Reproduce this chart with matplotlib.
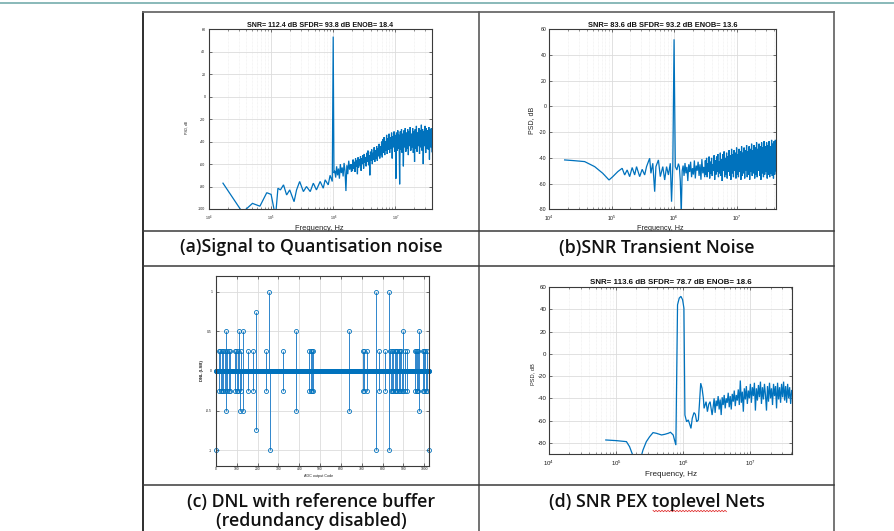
import numpy as np
import matplotlib
matplotlib.use("Agg")
import matplotlib.pyplot as plt
from matplotlib.ticker import FixedLocator, LogLocator, NullFormatter
from matplotlib.patches import Rectangle

# ------------------------------------------------------------------ data
# (a) Signal to quantisation noise : log10(f / Hz) and PSD in dB
a_low_logf = [4.225, 4.515, 4.58, 4.70, 4.82, 4.93, 5.00, 5.05, 5.08, 5.11,
              5.15, 5.20, 5.25, 5.30, 5.37, 5.41, 5.46, 5.52, 5.57, 5.63,
              5.68, 5.73, 5.79, 5.84, 5.87, 5.92, 5.95, 5.985, 6.0, 6.012]
a_low_db = [-77, -101, -101, -95, -97.5, -85.5, -87, -101, -101, -81.5,
            -83, -78.5, -87.5, -83, -93.5, -83, -75.5, -84.5, -80, -84.5,
            -77, -83, -75.5, -81.5, -74, -78.5, -70, -75.5, 53.5, -68]
a_mid_logf = [6.025, 6.04, 6.055, 6.07, 6.085, 6.10, 6.115, 6.13, 6.145, 6.16,
              6.175, 6.19, 6.205, 6.22, 6.235, 6.25, 6.265, 6.28, 6.295]
a_mid_db = [-66, -72, -62, -70, -64, -73, -60, -68, -63, -71,
            -59, -66, -84, -61, -69, -57, -65, -60, -67]
a_r2_logf = [6.30, 6.31, 6.32, 6.33, 6.34, 6.35, 6.36, 6.37, 6.38, 6.39,
             6.40, 6.41, 6.42, 6.43, 6.44, 6.45, 6.46, 6.47, 6.48, 6.49,
             6.50, 6.51, 6.52, 6.53, 6.54, 6.55, 6.56, 6.57, 6.58, 6.59,
             6.60, 6.61, 6.62, 6.63, 6.64, 6.65, 6.66, 6.67, 6.68, 6.69,
             6.70, 6.71, 6.72, 6.73, 6.74, 6.75, 6.76, 6.77, 6.78, 6.79]
a_r2_db = [-60, -66, -56, -64, -58, -67, -55, -62, -57, -69,
           -54, -63, -56, -61, -53, -66, -55, -60, -52, -64,
           -51, -59, -54, -62, -50, -58, -48, -61, -52, -70,
           -49, -57, -47, -60, -50, -56, -45, -58, -48, -55,
           -44, -57, -46, -53, -42, -55, -44, -52, -40, -54]
a_r3_logf = [6.80, 6.81, 6.82, 6.83, 6.84, 6.85, 6.86, 6.87, 6.88, 6.89,
             6.90, 6.91, 6.92, 6.93, 6.94, 6.95, 6.96, 6.97, 6.98, 6.99,
             7.00, 7.01, 7.02, 7.03, 7.04, 7.05, 7.06, 7.07, 7.08, 7.09,
             7.10, 7.11, 7.12, 7.13, 7.14, 7.15, 7.16, 7.17, 7.18, 7.19,
             7.20, 7.21, 7.22, 7.23, 7.24, 7.25, 7.26, 7.27, 7.28, 7.29,
             7.30, 7.31, 7.32, 7.33, 7.34, 7.35, 7.36, 7.37, 7.38, 7.39,
             7.40, 7.41, 7.42, 7.43, 7.44, 7.45, 7.46, 7.47, 7.48, 7.49,
             7.50, 7.51, 7.52, 7.53, 7.54, 7.55, 7.56, 7.57, 7.58, 7.59]
a_r3_db = [-38, -50, -36, -52, -40, -48, -34, -51, -37, -47,
           -33, -50, -36, -46, -32, -55, -35, -45, -31, -49,
           -34, -73, -32, -48, -30, -46, -34, -78, -31, -47,
           -29, -50, -33, -62, -30, -45, -28, -49, -32, -46,
           -29, -52, -31, -44, -27, -48, -33, -45, -28, -50,
           -31, -58, -29, -46, -26, -49, -32, -44, -28, -51,
           -30, -45, -25, -48, -29, -60, -31, -44, -26, -50,
           -28, -46, -30, -47, -27, -56, -29, -45, -28, -49]

# (b) SNR transient noise
b_low_logf = [4.25, 4.41, 4.57, 4.73, 4.86, 4.96, 5.02, 5.10, 5.17, 5.21,
              5.25, 5.29, 5.33, 5.37, 5.40, 5.45, 5.49, 5.53, 5.56, 5.61,
              5.63, 5.66, 5.69, 5.71, 5.75, 5.78, 5.82, 5.85, 5.88, 5.91,
              5.94, 5.96, 5.98, 6.0, 6.02, 6.045, 6.07, 6.085, 6.10, 6.115,
              6.13]
b_low_db = [-41.6, -42.2, -42.9, -46.8, -52, -57.2, -54.6, -50.7, -48.1, -53.3,
            -49.4, -54.6, -47.5, -53.3, -46.8, -54.6, -48.9, -53.3, -46.8, -40.3,
            -52, -44.2, -66.3, -46.8, -41.6, -54.6, -46.8, -57.2, -46.8, -53.3,
            -44.2, -74.1, -46.8, 52.2, -46.8, -49.4, -44.5, -47, -58, -84,
            -50]
b_mid_logf = [6.145, 6.16, 6.175, 6.19, 6.205, 6.22, 6.235, 6.25, 6.265, 6.28,
              6.295, 6.31, 6.325, 6.34, 6.355, 6.37, 6.385, 6.40, 6.415, 6.43,
              6.445, 6.46, 6.475, 6.49]
b_mid_db = [-46, -54, -44, -52, -47, -58, -45, -51, -43, -55,
            -48, -53, -42, -56, -46, -50, -43, -54, -45, -57,
            -41, -52, -47, -55]
b_hi_logf = [6.50, 6.51, 6.52, 6.53, 6.54, 6.55, 6.56, 6.57, 6.58, 6.59,
             6.60, 6.61, 6.62, 6.63, 6.64, 6.65, 6.66, 6.67, 6.68, 6.69,
             6.70, 6.71, 6.72, 6.73, 6.74, 6.75, 6.76, 6.77, 6.78, 6.79,
             6.80, 6.81, 6.82, 6.83, 6.84, 6.85, 6.86, 6.87, 6.88, 6.89,
             6.90, 6.91, 6.92, 6.93, 6.94, 6.95, 6.96, 6.97, 6.98, 6.99,
             7.00, 7.01, 7.02, 7.03, 7.04, 7.05, 7.06, 7.07, 7.08, 7.09,
             7.10, 7.11, 7.12, 7.13, 7.14, 7.15, 7.16, 7.17, 7.18, 7.19,
             7.20, 7.21, 7.22, 7.23, 7.24, 7.25, 7.26, 7.27, 7.28, 7.29,
             7.30, 7.31, 7.32, 7.33, 7.34, 7.35, 7.36, 7.37, 7.38, 7.39,
             7.40, 7.41, 7.42, 7.43, 7.44, 7.45, 7.46, 7.47, 7.48, 7.49,
             7.50, 7.51, 7.52, 7.53, 7.54, 7.55, 7.56, 7.57, 7.58, 7.59,
             7.60, 7.61, 7.62, 7.63]
b_hi_db = [-42, -53, -40, -55, -44, -51, -39, -56, -43, -52,
           -40, -54, -45, -50, -38, -57, -42, -53, -39, -51,
           -37, -55, -43, -52, -36, -54, -41, -58, -37, -50,
           -35, -55, -40, -53, -36, -56, -39, -51, -34, -54,
           -38, -57, -33, -52, -37, -55, -34, -50, -36, -56,
           -32, -53, -37, -55, -33, -51, -35, -57, -31, -54,
           -36, -52, -32, -56, -34, -50, -30, -55, -35, -53,
           -31, -57, -33, -51, -29, -54, -34, -52, -30, -56,
           -32, -53, -28, -55, -33, -50, -29, -54, -31, -57,
           -28, -52, -32, -55, -27, -53, -31, -51, -28, -56,
           -30, -53, -27, -55, -31, -52, -26, -54, -29, -56,
           -27, -53, -26, -50]

# (d) SNR PEX toplevel nets
d_low_logf = [4.846, 5.005, 5.154, 5.20, 5.26, 5.37, 5.40, 5.45, 5.50, 5.55,
              5.60, 5.677, 5.726, 5.776, 5.81, 5.85, 5.89, 5.915, 5.94, 5.965,
              5.99, 6.01, 6.025, 6.05, 6.075, 6.10, 6.115, 6.134, 6.16, 6.18,
              6.20, 6.225, 6.24, 6.26, 6.28, 6.30, 6.31, 6.34, 6.36, 6.38,
              6.40, 6.43]
d_low_db = [-77.4, -78, -78.9, -83.4, -93, -93, -86.4, -78.9, -74.4, -70.8,
            -71.4, -72.9, -72.3, -71.4, -70.5, -72.9, -82, 44, 50, 51.6,
            48.6, 41, -55, -61, -59.4, -64, -67, -58, -52.8, -54.3,
            -61, -59.4, -46, -26.4, -31, -40, -49, -43, -52, -45.3,
            -43, -55]
d_hi_logf = [6.445, 6.46, 6.475, 6.49, 6.505, 6.52, 6.535, 6.55, 6.565, 6.58,
             6.595, 6.61, 6.625, 6.64, 6.655, 6.67, 6.685, 6.70, 6.715, 6.73,
             6.745, 6.76, 6.775, 6.79, 6.805, 6.82, 6.835, 6.85, 6.865, 6.88,
             6.895, 6.91, 6.925, 6.94, 6.955, 6.97, 6.985, 7.00, 7.015, 7.03,
             7.045, 7.06, 7.075, 7.09, 7.105, 7.12, 7.135, 7.15, 7.165, 7.18,
             7.195, 7.21, 7.225, 7.24, 7.255, 7.27, 7.285, 7.30, 7.315, 7.33,
             7.345, 7.36, 7.375, 7.39, 7.405, 7.42, 7.435, 7.45, 7.465, 7.48,
             7.495, 7.51, 7.525, 7.54, 7.555, 7.57, 7.585, 7.60, 7.615]
d_hi_db = [-48, -40, -53, -42, -47, -38, -50, -41, -55, -39,
           -46, -37, -49, -40, -44, -35, -48, -38, -50, -36,
           -43, -33, -47, -37, -42, -32, -46, -24, -44, -34,
           -52, -31, -41, -29, -45, -33, -40, -27, -44, -30,
           -38, -26, -51, -31, -42, -28, -39, -25, -45, -30,
           -41, -27, -37, -51, -29, -43, -26, -40, -31, -46,
           -27, -38, -29, -49, -26, -41, -30, -44, -27, -39,
           -25, -42, -29, -44, -27, -40, -30, -45, -33]

# (c) DNL (LSB) per ADC output code; all codes not listed are 0
dnl_num_codes = 1024
dnl_codes = [0, 14, 15, 21, 22, 29, 30, 35, 36, 42, 43, 48, 49, 54, 55, 61, 62, 67, 68,
             91, 92, 98, 99, 104, 105, 112, 113, 118, 119, 128, 129, 152, 153,
             176, 177, 190, 191, 240, 241, 256, 257, 320, 321, 384, 385,
             448, 449, 454, 455, 461, 462, 467, 468, 640, 641,
             704, 705, 710, 711, 723, 724, 768, 769, 784, 785, 811, 812,
             832, 833, 838, 839, 845, 846, 851, 852, 858, 859, 864, 865,
             870, 871, 877, 878, 883, 884, 890, 891, 896, 897, 907, 908,
             915, 916, 955, 956, 962, 963, 966, 967, 971, 972, 976, 977,
             995, 996, 1000, 1001, 1006, 1007, 1014, 1015, 1023]
dnl_vals = [-1, 0.25, -0.25, 0.25, -0.25, 0.25, -0.25, 0.25, -0.25, 0.25, -0.25, 0.5, -0.5,
            0.25, -0.25, 0.25, -0.25, 0.25, -0.25,
            0.25, -0.25, 0.25, -0.25, 0.25, -0.25, 0.5, -0.5, 0.25, -0.25, 0.5, -0.5,
            0.25, -0.25,
            0.25, -0.25, 0.75, -0.75, 0.25, -0.25, 1, -1, 0.25, -0.25, 0.5, -0.5,
            0.25, -0.25, 0.25, -0.25, 0.25, -0.25, 0.25, -0.25, 0.5, -0.5,
            0.25, -0.25, 0.25, -0.25, 0.25, -0.25, 1, -1, 0.25, -0.25, 0.25, -0.25,
            1, -1, 0.25, -0.25, 0.25, -0.25, 0.25, -0.25, 0.25, -0.25, 0.25, -0.25,
            0.25, -0.25, 0.25, -0.25, 0.25, -0.25, 0.25, -0.25, 0.5, -0.25, 0.25, -0.25,
            0.25, -0.25, 0.25, -0.25, 0.25, -0.25, 0.25, -0.25, 0.25, -0.25, 0.5, -0.5,
            0.25, -0.25, 0.25, -0.25, 0.25, -0.25, 0.25, -0.25, -1]

psd_xticks = [1e4, 1e5, 1e6, 1e7]
a_yticks = [-100, -80, -60, -40, -20, 0, 20, 40, 60]
b_yticks = [-80, -60, -40, -20, 0, 20, 40, 60]
d_yticks = [-80, -60, -40, -20, 0, 20, 40, 60]
c_xticks = [0, 100, 200, 300, 400, 500, 600, 700, 800, 900, 1000]
c_yticks = [-1, -0.5, 0, 0.5, 1]

title_a = "SNR= 112.4 dB SFDR= 93.8 dB ENOB= 18.4"
title_b = "SNR= 83.6 dB SFDR= 93.2 dB ENOB= 13.6"
title_d = "SNR= 113.6 dB SFDR= 78.7 dB ENOB= 18.6"
caption_a = "(a)Signal to Quantisation noise"
caption_b = "(b)SNR Transient Noise"
caption_c1 = "(c) DNL with reference buffer"
caption_c2 = "(redundancy disabled)"
caption_d = "(d) SNR PEX toplevel Nets"

for arr in [(a_low_logf, a_low_db), (a_mid_logf, a_mid_db), (a_r2_logf, a_r2_db),
            (a_r3_logf, a_r3_db), (b_low_logf, b_low_db), (b_mid_logf, b_mid_db),
            (b_hi_logf, b_hi_db), (d_low_logf, d_low_db), (d_hi_logf, d_hi_db),
            (dnl_codes, dnl_vals)]:
    assert len(arr[0]) == len(arr[1]), (len(arr[0]), len(arr[1]))

# ------------------------------------------------------------------ figure
plt.rcParams['font.family'] = ['Liberation Sans', 'DejaVu Sans']
plt.rcParams['mathtext.fontset'] = 'custom'
plt.rcParams['mathtext.rm'] = 'Liberation Sans'
plt.rcParams['mathtext.it'] = 'Liberation Sans:italic'
plt.rcParams['mathtext.bf'] = 'Liberation Sans:bold'
plt.rcParams['axes.unicode_minus'] = False

W, H = 895, 531
fig = plt.figure(figsize=(W / 100, H / 100), dpi=100)
fig.patch.set_facecolor('white')

BLUE = '#0072BD'
AXC = '#3a3a3a'


def add_ax(rect):
    x0, y0, x1, y1 = rect
    return fig.add_axes([x0 / W, 1 - y1 / H, (x1 - x0) / W, (y1 - y0) / H])


def place_label(label, rect, px, py):
    x0, y0, x1, y1 = rect
    label.set_va('center')
    label.set_ha('center')
    return ((px - x0) / (x1 - x0), (y1 - py) / (y1 - y0))


def style_common(ax, tick_fs, xpad, ypad):
    ax.tick_params(which='major', direction='in', top=True, right=True,
                   length=2.2, width=0.5, labelsize=tick_fs, colors=AXC,
                   labelcolor='#1a1a1a')
    ax.tick_params(axis='x', which='major', pad=xpad)
    ax.tick_params(axis='y', which='major', pad=ypad)
    ax.tick_params(which='minor', direction='in', top=True, right=True,
                   length=1.2, width=0.4, colors=AXC)
    for s in ax.spines.values():
        s.set_color(AXC)
        s.set_linewidth(0.8)
    ax.grid(True, which='major', color='#dcdcdc', lw=0.6)
    ax.set_axisbelow(True)


rect_a = (209, 29.3, 432, 209)
rect_b = (549, 29.3, 776, 209.3)
rect_c = (216, 276, 429, 466)
rect_d = (549, 287, 792, 454)

fit_jobs = []


def psd_panel(rect, logf, db, ylim, yticks, xright, tick_fs, xpad, ypad, lw,
              title, title_pad, title_w, xl_pos, xl_w, yl_pos, yl_w):
    ax = add_ax(rect)
    ax.plot(np.power(10.0, logf), db, color=BLUE, lw=lw, solid_joinstyle='miter')
    ax.set_xscale('log')
    ax.set_xlim(1e4, xright)
    ax.set_ylim(*ylim)
    ax.xaxis.set_major_locator(FixedLocator(psd_xticks))
    ax.xaxis.set_minor_locator(LogLocator(base=10, subs=(2, 3, 4, 5, 6, 7, 8, 9), numticks=30))
    ax.xaxis.set_minor_formatter(NullFormatter())
    ax.set_yticks(yticks)
    style_common(ax, tick_fs, xpad, ypad)
    ax.grid(True, which='minor', axis='x', color='#ececec', lw=0.5, ls=(0, (1, 1)))
    t = ax.set_title(title, fontsize=6, fontweight='bold', pad=title_pad, color='#111')
    ax.set_xlabel('Frequency, Hz', fontsize=6, color='#222')
    ax.set_ylabel('PSD, dB', fontsize=6, color='#222')
    ax.xaxis.set_label_coords(*place_label(ax.xaxis.label, rect, *xl_pos))
    ax.yaxis.set_label_coords(*place_label(ax.yaxis.label, rect, *yl_pos))
    fit_jobs.append((t, title_w, 'w'))
    fit_jobs.append((ax.xaxis.label, xl_w, 'w'))
    fit_jobs.append((ax.yaxis.label, yl_w, 'h'))
    return ax


ax_a = psd_panel(rect_a, a_low_logf + a_mid_logf + a_r2_logf + a_r3_logf,
                 a_low_db + a_mid_db + a_r2_db + a_r3_db,
                 (-100, 60), a_yticks, 3.9e7, 2.6, 3.2, 2.6, 0.9,
                 title_a, 1.8, 147, (319.5, 228.5), 49, (187, 128), 13)
ax_b = psd_panel(rect_b, b_low_logf + b_mid_logf + b_hi_logf,
                 b_low_db + b_mid_db + b_hi_db,
                 (-80, 60), b_yticks, 4.27e7, 3.7, 3.2, 1.8, 0.9,
                 title_b, 2.0, 151, (660.5, 228.5), 47, (531.7, 120), 27)
ax_d = psd_panel(rect_d, d_low_logf + d_hi_logf, d_low_db + d_hi_db,
                 (-90, 60), d_yticks, 4.17e7, 4.4, 3.6, 1.8, 0.9,
                 title_d, 2.3, 162, (670.8, 474), 53, (532.3, 374), 22)

# (c) DNL stem plot
ax_c = add_ax(rect_c)
codes = np.arange(dnl_num_codes)
dnl = np.zeros(dnl_num_codes)
dnl[dnl_codes] = dnl_vals
ml, sl, bl = ax_c.stem(codes, dnl, linefmt='-', markerfmt='o', basefmt=' ')
sl.set_color('#2f86cc')
sl.set_linewidth(0.7)
ml.set_color(BLUE)
ml.set_markersize(2.9)
ml.set_markerfacecolor('none')
ml.set_markeredgewidth(0.6)
ml.set_clip_on(False)
ax_c.set_xlim(0, 1023)
ax_c.set_ylim(-1.2, 1.2)
ax_c.set_xticks(c_xticks)
ax_c.set_yticks(c_yticks)
ax_c.set_yticklabels(['-1', '-0.5', '0', '0.5', '1'])
style_common(ax_c, 2.4, 0.8, 2.8)
ax_c.set_xlabel('ADC output Code', fontsize=3, color='#222')
ax_c.set_ylabel('DNL (LSB)', fontsize=3, color='#222', fontweight='bold')
ax_c.xaxis.set_label_coords(*place_label(ax_c.xaxis.label, rect_c, 318.8, 476))
ax_c.yaxis.set_label_coords(*place_label(ax_c.yaxis.label, rect_c, 202, 370.8))
fit_jobs.append((ax_c.xaxis.label, 29, 'w'))
fit_jobs.append((ax_c.yaxis.label, 21, 'h'))

# ------------------------------------------------------------------ table overlay
ov = fig.add_axes([0, 0, 1, 1], zorder=20)
ov.set_xlim(0, W)
ov.set_ylim(H, 0)
ov.axis('off')
ov.patch.set_alpha(0)
ov.add_patch(Rectangle((143, 231), 691, 35, facecolor='white', edgecolor='none'))
ov.add_patch(Rectangle((143, 485), 691, 46, facecolor='white', edgecolor='none'))

ov.plot([0, W], [3.3, 3.3], color='#6aa5a5', lw=1.1)
line_kw = dict(color='#3a3a3a', lw=1.1, solid_capstyle='projecting')
ov.plot([143, 143], [12, H], color='#2e2e2e', lw=1.4, solid_capstyle='projecting')
ov.plot([834, 834], [12, H], color='#6a6a6a', lw=1.3)
ov.plot([143, 834], [12, 12], color='#6a6a6a', lw=1.3)
ov.plot([479, 479], [12, H], color='#5a5a5a', lw=1.2)
for yy in (231, 266, 485):
    ov.plot([143, 834], [yy, yy], **line_kw)

cap_kw = dict(ha='center', va='baseline', family=['Open Sans', 'DejaVu Sans'],
              fontweight='semibold', color='#111111', fontsize=12)
t_ca = ov.text(311, 252.5, caption_a, **cap_kw)
t_cb = ov.text(656.5, 252.5, caption_b, **cap_kw)
t_cc1 = ov.text(311, 507, caption_c1, **cap_kw)
t_cc2 = ov.text(311, 526, caption_c2, **cap_kw)
t_cd = ov.text(656.5, 507, caption_d, **cap_kw)

# ------------------------------------------------------------------ fit text sizes
fig.canvas.draw()
renderer = fig.canvas.get_renderer()
for t, target, mode in fit_jobs:
    bb = t.get_window_extent(renderer)
    cur = bb.width if mode == 'w' else bb.height
    if cur > 0:
        t.set_fontsize(t.get_fontsize() * target / cur)
bb = t_ca.get_window_extent(renderer)
cap_fs = t_ca.get_fontsize() * 262 / bb.width
for t in (t_ca, t_cb, t_cc1, t_cc2, t_cd):
    t.set_fontsize(cap_fs)

# spell-check squiggle under "toplevel"
fig.canvas.draw()
sq_x = np.arange(653, 727.5, 1.5)
sq_y = 511 + np.where(np.arange(len(sq_x)) % 2 == 0, -0.7, 0.7)
ov.plot(sq_x, sq_y, color='#e02a2a', lw=0.55)

fig.savefig('out.png', dpi=100, facecolor='white')
